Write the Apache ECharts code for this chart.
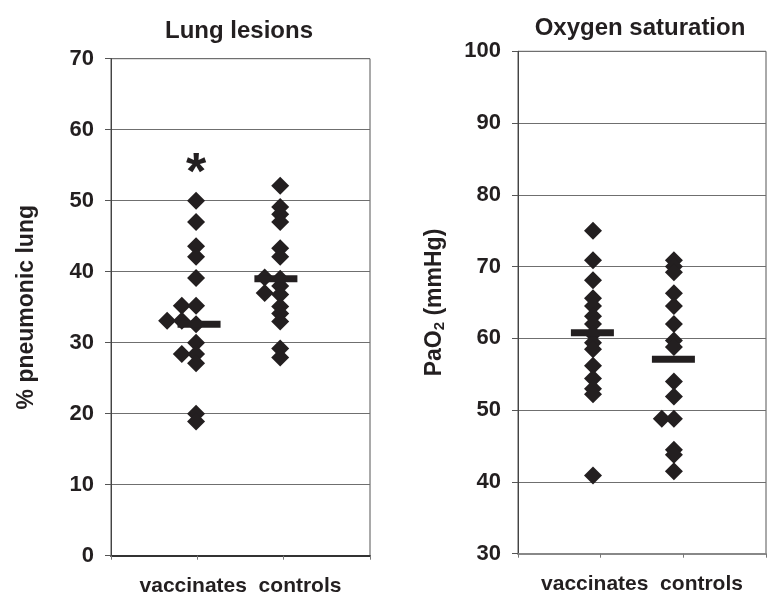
<!DOCTYPE html>
<html>
<head>
<meta charset="utf-8">
<script src="https://cdn.jsdelivr.net/npm/echarts@6/dist/echarts.min.js"></script>
<style>html,body{margin:0;padding:0;background:#fff}#c{width:774px;height:605px}</style>
</head>
<body>
<div id="c"></div>
<script>
// ---- data ----
const categories = ['vaccinates', 'controls'];
const titles = ['Lung lesions', 'Oxygen saturation'];
const yNames = ['% pneumonic lung', 'PaO{sub|2} (mmHg)'];
const lungTicks = [0, 10, 20, 30, 40, 50, 60, 70];
const oxyTicks = [30, 40, 50, 60, 70, 80, 90, 100];

// Lung lesions (% pneumonic lung): x = plotted slot (category 1 / 2 with side-by-side spread), y = value
const lungVaccSlot = [0.985, 0.985, 0.985, 0.985, 0.985, 0.82, 0.985, 0.65, 0.82, 0.985, 0.985, 0.82, 0.985, 0.985, 0.985, 0.985];
const lungVacc     = [50, 47, 43.6, 42.1, 39.1, 35.2, 35.2, 33.1, 33.1, 32.6, 30.0, 28.4, 28.4, 27.1, 20.0, 18.9];
const lungCtrlSlot = [1.96, 1.96, 1.96, 1.96, 1.96, 1.96, 1.78, 1.96, 1.78, 1.96, 1.96, 1.96, 1.96, 1.96, 1.96, 1.96];
const lungCtrl     = [52.1, 49.1, 48.1, 47.0, 43.3, 42.1, 39.2, 39.0, 37.0, 38.0, 36.8, 35.1, 34.1, 33.0, 29.2, 27.9];
const lungMedianSlot = [1.02, 1.91];
const lungMedian     = [32.6, 39.0];
const lungSigSlot = [0.985];
const lungSig     = [55.3];

// Oxygen saturation (PaO2 mmHg)
const oxyVaccSlot = [0.907, 0.907, 0.907, 0.907, 0.907, 0.907, 0.907, 0.907, 0.907, 0.907, 0.907, 0.907, 0.907, 0.907, 0.907];
const oxyVacc     = [75.0, 70.9, 68.1, 65.6, 64.5, 63.1, 62.0, 60.6, 59.4, 58.5, 56.2, 54.4, 53.0, 52.2, 40.9];
const oxyCtrlSlot = [1.886, 1.886, 1.886, 1.886, 1.886, 1.886, 1.886, 1.886, 1.886, 1.886, 1.74, 1.886, 1.886, 1.886, 1.886];
const oxyCtrl     = [70.9, 70.0, 69.2, 66.3, 64.5, 62.0, 59.7, 58.8, 54.0, 51.9, 48.8, 48.8, 44.5, 43.8, 41.5];
const oxyMedianSlot = [0.9, 1.88];
const oxyMedian     = [60.8, 57.1];

// ---- chart ----
const zip = (xs, ys) => xs.map((x, i) => [x, ys[i]]);
const INK = '#231f20';
const FONT = '"Liberation Sans", Arial, sans-serif';

const chart = echarts.init(document.getElementById('c'), null, {renderer: 'canvas'});

function xAxisCfg(gi, bottomColor) {
  return {
    gridIndex: gi, type: 'value', min: 0, max: 3, interval: 1,
    axisLine: {show: true, lineStyle: {color: bottomColor, width: 2}},
    axisTick: {show: true, inside: false, length: 4, lineStyle: {color: '#777', width: 1}},
    axisLabel: {show: false},
    splitLine: {show: false},
    name: categories.join('  '), nameLocation: 'middle', nameGap: 20,
    nameTextStyle: {fontFamily: FONT, fontWeight: 'bold', fontSize: 21, color: INK}
  };
}
function yAxisCfg(gi, ticks, name, gap, nameSize) {
  return {
    gridIndex: gi, type: 'value', min: ticks[0], max: ticks[ticks.length - 1], interval: ticks[1] - ticks[0],
    axisLine: {show: true, lineStyle: {color: '#444', width: 1}},
    axisTick: {show: true, inside: false, length: 6, lineStyle: {color: '#555'}},
    axisLabel: {fontFamily: FONT, fontWeight: 'bold', fontSize: 22, color: INK, margin: 17},
    splitLine: {show: true, lineStyle: {color: '#6f6f6f', width: 1}},
    name: name, nameLocation: 'middle', nameRotate: 90, nameGap: gap,
    nameTextStyle: {
      fontFamily: FONT, fontWeight: 'bold', fontSize: nameSize, color: INK,
      rich: {sub: {fontFamily: FONT, fontWeight: 'bold', fontSize: Math.round(nameSize * 0.66), color: INK, verticalAlign: 'bottom', padding: [10, 0, 0, 0]}}
    }
  };
}
const diamond = (name, xi, yi, slots, vals) => ({
  name, type: 'scatter', xAxisIndex: xi, yAxisIndex: yi,
  symbol: 'diamond', symbolSize: 18, itemStyle: {color: INK, opacity: 1},
  data: zip(slots, vals), z: 3, silent: true
});
const medianBar = (xi, yi, slots, vals) => ({
  name: 'median', type: 'scatter', xAxisIndex: xi, yAxisIndex: yi,
  symbol: 'rect', symbolSize: [43, 7], itemStyle: {color: INK, opacity: 1},
  data: zip(slots, vals), z: 4, silent: true
});

chart.setOption({
  animation: false,
  backgroundColor: '#fff',
  title: [
    {text: titles[0], left: 234, top: 14, textAlign: 'center',
     textStyle: {fontFamily: FONT, fontWeight: 'bold', fontSize: 24, color: INK}},
    {text: titles[1], left: 635, top: 11, textAlign: 'center',
     textStyle: {fontFamily: FONT, fontWeight: 'bold', fontSize: 24, color: INK}}
  ],
  grid: [
    {left: 111, top: 58.7, width: 259, height: 497, show: true, borderColor: '#555', borderWidth: 1, backgroundColor: 'transparent'},
    {left: 518, top: 51.3, width: 248, height: 502.4, show: true, borderColor: '#555', borderWidth: 1, backgroundColor: 'transparent'}
  ],
  xAxis: [xAxisCfg(0, '#333'), xAxisCfg(1, '#888')],
  yAxis: [yAxisCfg(0, lungTicks, yNames[0], 73, 23), yAxisCfg(1, oxyTicks, yNames[1], 71, 23)],
  series: [
    diamond('lung vaccinates', 0, 0, lungVaccSlot, lungVacc),
    diamond('lung controls', 0, 0, lungCtrlSlot, lungCtrl),
    medianBar(0, 0, lungMedianSlot, lungMedian),
    {
      name: 'significance', type: 'scatter', xAxisIndex: 0, yAxisIndex: 0,
      symbolSize: 1, itemStyle: {color: 'rgba(0,0,0,0)', opacity: 1},
      data: zip(lungSigSlot, lungSig), silent: true,
      label: {show: true, position: 'inside', formatter: '*', offset: [0, 12], opacity: 1,
              fontFamily: FONT, fontWeight: 'bold', fontSize: 52, color: INK,
              textBorderWidth: 0, textShadowBlur: 0}
    },
    diamond('oxygen vaccinates', 1, 1, oxyVaccSlot, oxyVacc),
    diamond('oxygen controls', 1, 1, oxyCtrlSlot, oxyCtrl),
    medianBar(1, 1, oxyMedianSlot, oxyMedian)
  ]
});
</script>
</body>
</html>
